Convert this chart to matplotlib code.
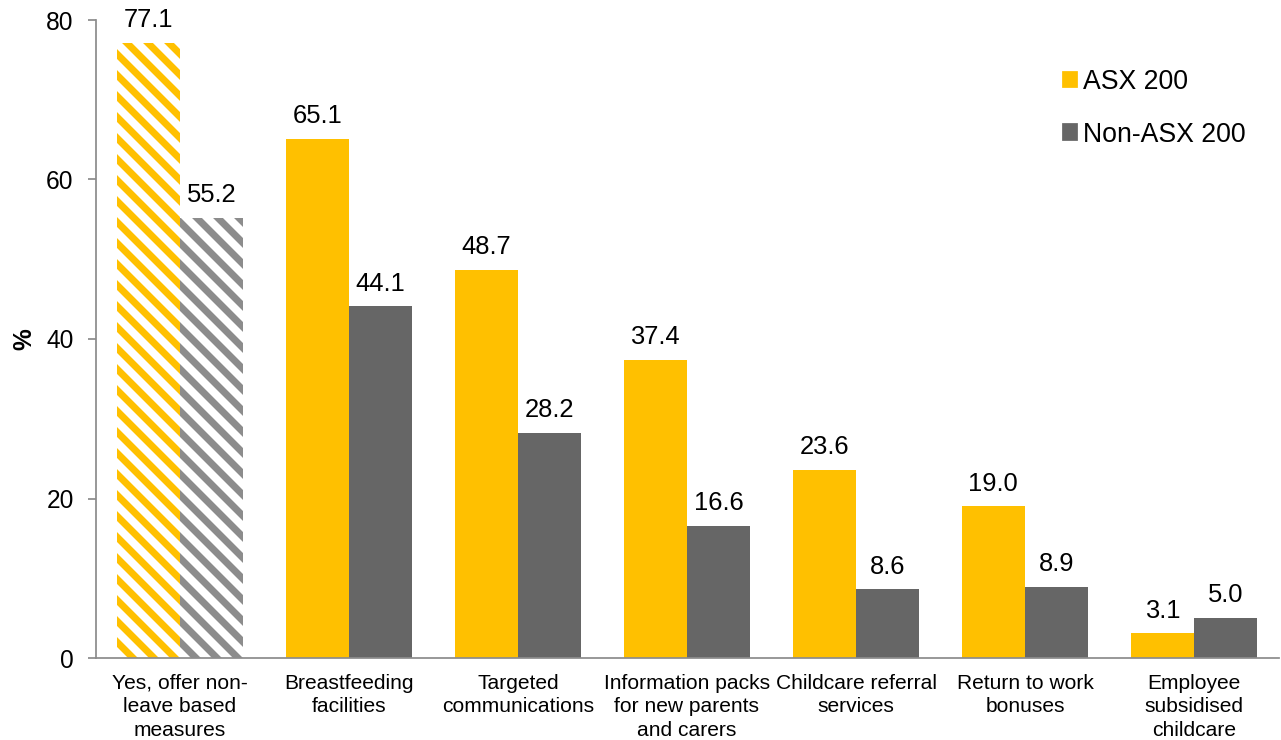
import numpy as np
import matplotlib.pyplot as plt

plt.rcParams['font.family'] = ['Liberation Sans', 'DejaVu Sans']
plt.rcParams['hatch.linewidth'] = 4.0

categories = ["Yes, offer non-\nleave based\nmeasures", "Breastfeeding\nfacilities",
              "Targeted\ncommunications", "Information packs\nfor new parents\nand carers",
              "Childcare referral\nservices", "Return to work\nbonuses",
              "Employee\nsubsidised\nchildcare"]
asx200 = [77.1, 65.1, 48.7, 37.4, 23.6, 19.0, 3.1]
non_asx200 = [55.2, 44.1, 28.2, 16.6, 8.6, 8.9, 5.0]
yticks = [0, 20, 40, 60, 80]

yellow = "#FFC000"
grey = "#666666"
grey_stripe = "#8C8C8C"
axis_grey = "#8C8C8C"

DPI = 126
fig = plt.figure(figsize=(1281 / DPI, 740 / DPI), dpi=DPI)
ax = fig.add_axes([95.5 / 1281, 1 - 658 / 740, 1183 / 1281, 638 / 740])

x = np.arange(len(categories))
w = 0.375

b1 = ax.bar(x - w / 2, asx200, width=w, color=yellow, linewidth=0, label="ASX 200")
b2 = ax.bar(x + w / 2, non_asx200, width=w, color=grey, linewidth=0, label="Non-ASX 200")

# first group is a summary row: striped instead of solid
b1[0].set_facecolor("white")
b1[0].set_edgecolor(yellow)
b1[0].set_hatch("\\\\")
b2[0].set_facecolor("white")
b2[0].set_edgecolor(grey_stripe)
b2[0].set_hatch("\\\\")

for bars, vals in [(b1, asx200), (b2, non_asx200)]:
    for bar, v in zip(bars, vals):
        ax.annotate(f"{v:.1f}", (bar.get_x() + bar.get_width() / 2, v),
                    xytext=(0, 9), textcoords="offset points",
                    ha="center", va="baseline", fontsize=14.6)

ax.set_xlim(-0.5, 6.5)
ax.set_ylim(0, 80)
ax.set_yticks(yticks)
ax.set_xticks(x)
ax.set_xticklabels(categories, fontsize=12, linespacing=1.3)
ax.tick_params(axis="x", length=0, pad=9)
ax.tick_params(axis="y", length=4.5, width=1, color=axis_grey, labelsize=14, pad=8)

for s in ["top", "right"]:
    ax.spines[s].set_visible(False)
for s in ["left", "bottom"]:
    ax.spines[s].set_color(axis_grey)
    ax.spines[s].set_linewidth(1)

ax.set_ylabel("%", fontsize=14, fontweight="bold")
ax.yaxis.set_label_coords(-0.05, 0.5)

handles = [plt.Rectangle((0, 0), 1, 1, color=yellow),
           plt.Rectangle((0, 0), 1, 1, color=grey)]
ax.legend(handles, ["ASX 200", "Non-ASX 200"], loc="upper left",
          bbox_to_anchor=(1063 / 1281, 1 - 69 / 740), bbox_transform=fig.transFigure,
          frameon=False, fontsize=15.2, handlelength=0.52, handleheight=0.52,
          handletextpad=0.25, labelspacing=1.0, borderpad=0, borderaxespad=0)

fig.savefig("out.png", dpi=DPI)
